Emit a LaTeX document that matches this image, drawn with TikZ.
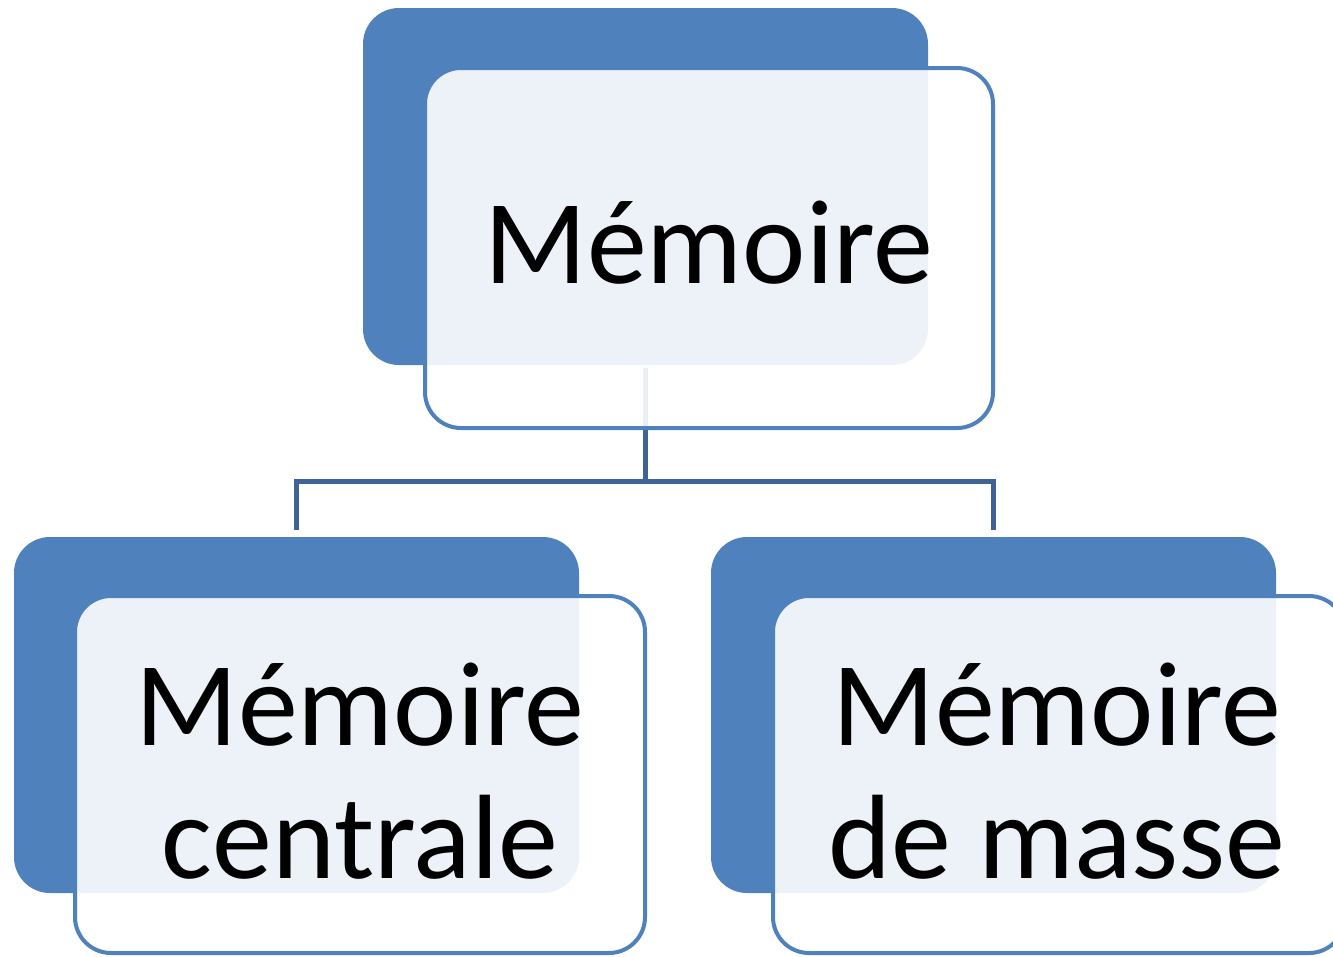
\documentclass[tikz,border=0pt]{standalone}
\usepackage{fontspec}
\setmainfont{Carlito}
\definecolor{accent}{RGB}{79,129,189}
\definecolor{conn}{RGB}{61,100,148}
\begin{document}
\begin{tikzpicture}[x=1pt,y=-1pt,
  back/.style={fill=accent,rounded corners=36pt},
  front/.style={draw=accent,line width=4pt,fill=white,fill opacity=0.9,rounded corners=36pt},
  link/.style={draw=conn,line width=5pt},
  lbl/.style={font=\fontsize{120}{133}\selectfont,align=center,inner sep=0pt,anchor=base}]
\useasboundingbox (0,0) rectangle (1333,956);
% back boxes
\path[back] (363,8) rectangle (928,365);
\path[back] (14,537) rectangle (579,893);
\path[back] (711,537) rectangle (1276,893);
% connectors
\coordinate (top) at (645.5,368);
\coordinate (mid) at (645.5,481);
\coordinate (l) at (296.5,481);
\coordinate (r) at (993.5,481);
\coordinate (ld) at (296.5,530);
\coordinate (rd) at (993.5,530);
\draw[link] (top) -- (mid);
\draw[link,line join=miter] (ld) -- (l) -- (r) -- (rd);
% front boxes
\path[front] (425,68) rectangle (993,428);
\path[front] (75,596) rectangle (645,953);
\path[front] (773,596) rectangle (1345,953);
% labels
\node[lbl] (t) at (709,283) {Mémoire};
\node[lbl] (a) at (360,878) {Mémoire\\centrale};
\node[lbl] (b) at (1057,878) {Mémoire\\de masse};
\end{tikzpicture}
\end{document}
